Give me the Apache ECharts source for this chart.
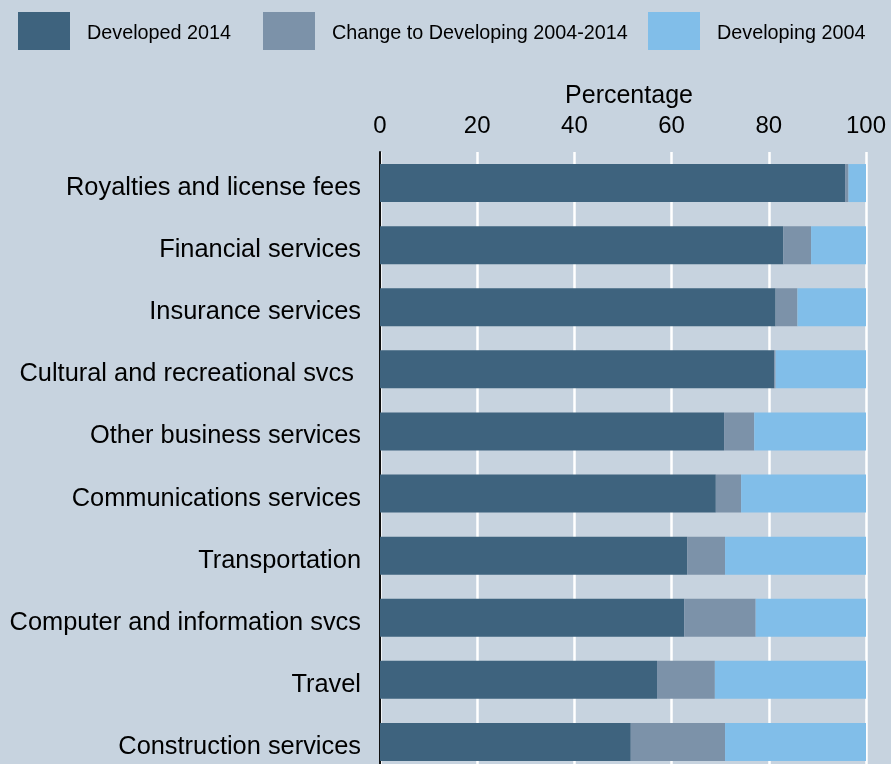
<!DOCTYPE html>
<html>
<head>
<meta charset="utf-8">
<script src="https://cdn.jsdelivr.net/npm/echarts@6/dist/echarts.min.js"></script>
<style>
  html, body { margin: 0; padding: 0; background: #C7D3DF; }
  #chart { width: 891px; height: 764px; }
</style>
</head>
<body>
<div id="chart"></div>
<script>
// Service categories, top to bottom
const categories = [
  'Royalties and license fees',
  'Financial services',
  'Insurance services',
  'Cultural and recreational svcs ',
  'Other business services',
  'Communications services',
  'Transportation',
  'Computer and information svcs',
  'Travel',
  'Construction services'
];

// Shares in percent
const developed2014 = [95.7, 83.0, 81.4, 81.1, 70.8, 69.1, 63.2, 62.6, 57.0, 51.6];
const changeToDeveloping = [0.7, 5.7, 4.5, 0.3, 6.2, 5.2, 7.8, 14.7, 11.9, 19.4];
const developing2004 = [3.6, 11.3, 14.1, 18.6, 23.0, 25.7, 29.0, 22.7, 31.1, 29.0];

const seriesNames = ['Developed 2014', 'Change to Developing 2004-2014', 'Developing 2004'];
const colors = ['#3E637E', '#7C92A9', '#81BEE9'];
const valueTicks = [0, 20, 40, 60, 80, 100];

const FONT = 'Liberation Sans, Arial, sans-serif';

const chart = echarts.init(document.getElementById('chart'));

function legendAt(name, left) {
  return {
    data: [name],
    left: left,
    top: 12,
    padding: 0,
    itemWidth: 52,
    itemHeight: 38,
    icon: 'rect',
    selectedMode: false,
    formatter: '{t|{name}}',
    textStyle: {
      fontFamily: FONT, fontSize: 19.8, color: '#000',
      rich: { t: { fontFamily: FONT, fontSize: 19.8, color: '#000', padding: [6, 0, 0, 12] } }
    }
  };
}

const seriesData = [developed2014, changeToDeveloping, developing2004];

chart.setOption({
  backgroundColor: '#C7D3DF',
  animation: false,
  color: colors,
  legend: [
    legendAt(seriesNames[0], 18),
    legendAt(seriesNames[1], 263),
    legendAt(seriesNames[2], 648)
  ],
  grid: {
    left: 380, right: 25, top: 152, height: 621,
    containLabel: false,
    outerBoundsMode: 'none'
  },
  xAxis: {
    type: 'value',
    position: 'top',
    min: valueTicks[0],
    max: valueTicks[valueTicks.length - 1],
    interval: 20,
    name: 'Percentage',
    nameLocation: 'middle',
    nameGap: 40,
    nameTextStyle: { fontFamily: FONT, fontSize: 25, color: '#000', padding: [0, 0, 0, 12] },
    axisLine: { show: false },
    axisTick: { show: false },
    axisLabel: { fontFamily: FONT, fontSize: 24, color: '#000', margin: 14 },
    splitLine: { show: true, lineStyle: { color: '#FFFFFF', width: 2.5 } }
  },
  yAxis: {
    type: 'category',
    inverse: true,
    data: categories,
    axisLine: { show: true, lineStyle: { color: '#111', width: 2 } },
    axisTick: { show: false },
    axisLabel: {
      fontFamily: FONT, fontSize: 25.4, color: '#000', margin: 19,
      formatter: value => '{c|' + value + '}',
      rich: { c: { fontFamily: FONT, fontSize: 25.4, color: '#000', padding: [10, 0, 0, 0] } }
    }
  },
  series: seriesNames.map((name, i) => ({
    name: name,
    type: 'bar',
    stack: 'share',
    barWidth: 38,
    data: seriesData[i],
    itemStyle: { color: colors[i] }
  }))
});
</script>
</body>
</html>
